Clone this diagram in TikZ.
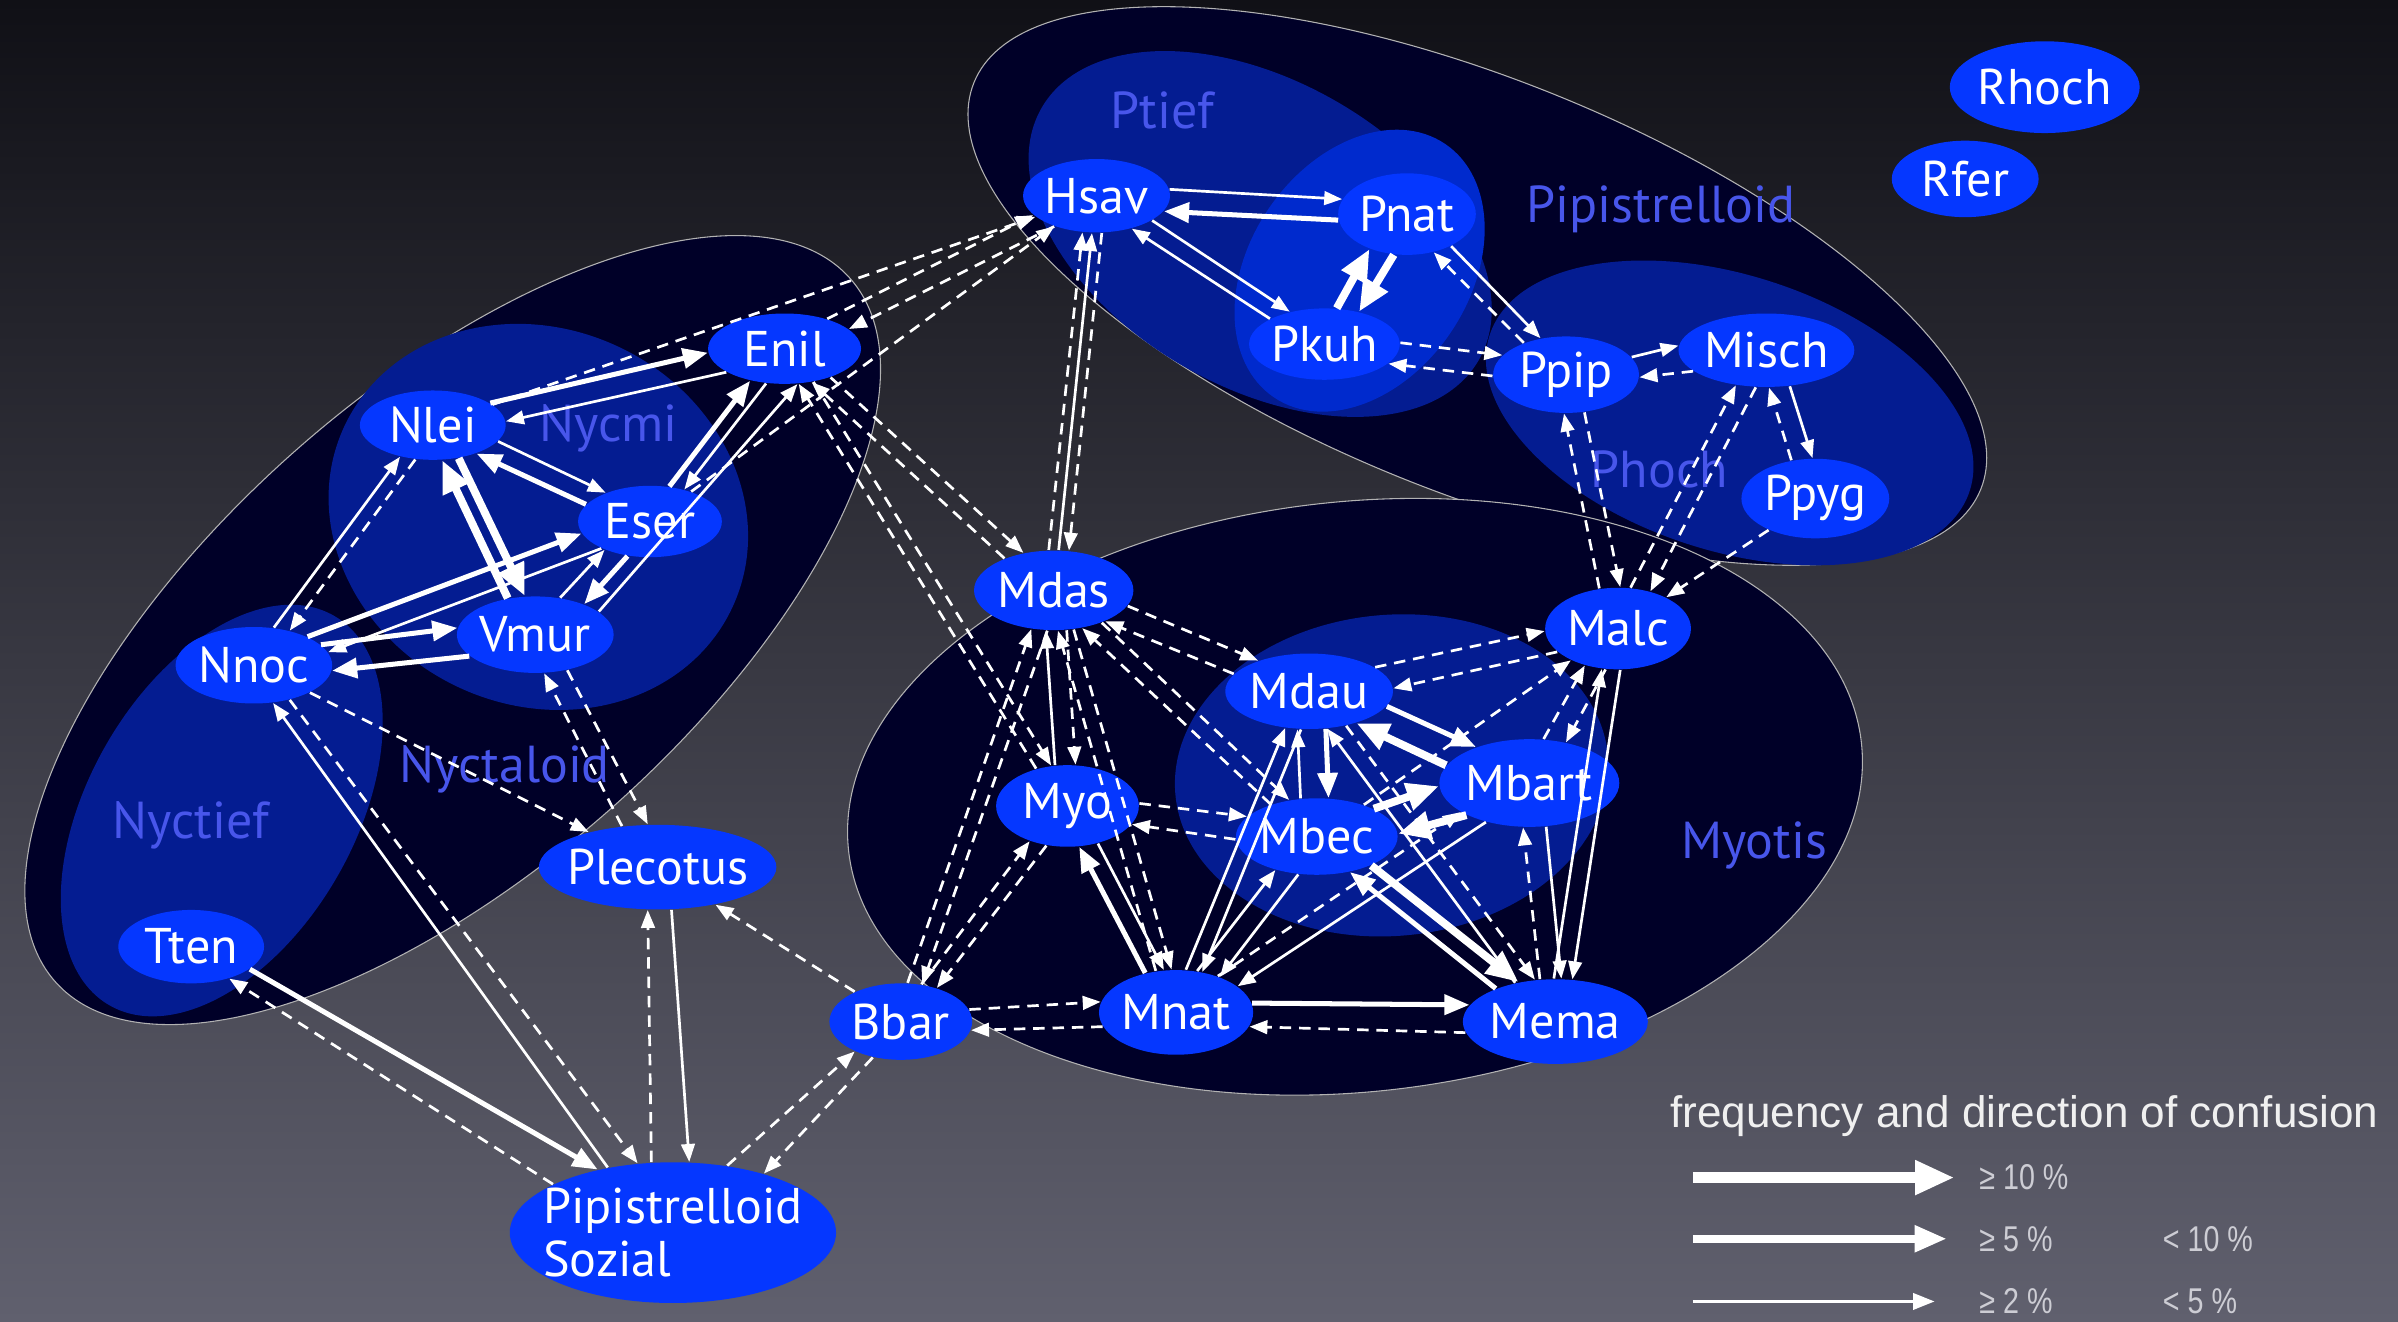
\documentclass[tikz,border=0pt]{standalone}
\usepackage{fontspec}
\setmainfont{PT Sans}
\newfontfamily\keyfont{Liberation Sans}
\newfontfamily\keynarrow[FakeStretch=0.8]{Liberation Sans}
\usepackage{xcolor}
\usetikzlibrary{arrows.meta, calc, shapes.geometric}

\definecolor{bgtop}{RGB}{16,16,22}
\definecolor{bgmid}{RGB}{50,50,62}
\definecolor{bgbot}{RGB}{96,96,110}
\definecolor{groupdark}{RGB}{0,0,40}
\definecolor{groupblue}{RGB}{4,28,145}
\definecolor{grouplight}{RGB}{0,42,205}
\definecolor{specblue}{RGB}{5,55,255}
\definecolor{grouptext}{RGB}{72,86,235}
\definecolor{keygray}{RGB}{205,205,212}

% one confusion arrow, shifted off the centre line by an angle
\newcommand{\conf}[4][9]{%
  \draw[#2] let \p1=($(#4)-(#3)$), \n1={atan2(\y1,\x1)+#1}, \n2={atan2(\y1,\x1)+180-#1} in (#3.\n1) -- (#4.\n2);}

\begin{document}
\begin{tikzpicture}[
    x=0.015cm, y=-0.015cm,
    species/.style={ellipse, fill=specblue, text=white, inner sep=0pt, font=\fontsize{14}{15}\selectfont},
    grouplabel/.style={text=grouptext, font=\fontsize{14.5}{16}\selectfont},
    conf10/.style={draw=white, line width=2.2pt, -{Triangle[length=9pt, width=7.5pt]}},
    conf5/.style={draw=white, line width=1.4pt, -{Triangle[length=7pt, width=5.5pt]}},
    conf2/.style={draw=white, line width=0.75pt, -{Triangle[length=5pt, width=3.8pt]}},
    confd/.style={draw=white, line width=0.75pt, dash pattern=on 3.2pt off 2.2pt, -{Triangle[length=5pt, width=3.8pt]}},
    keytext/.style={text=keygray, anchor=west, font=\keynarrow\fontsize{10}{11}\selectfont}
]

% Background
\useasboundingbox (0,0) rectangle (1568,864);
\shade[top color=bgtop, middle color=bgmid, bottom color=bgbot] (0,0) rectangle (1568,864);

% Group regions
\filldraw[groupdark, draw=gray!60, line width=0.3pt, rotate around={41.5:(296,412)}] (296,412) ellipse [x radius=347, y radius=156];
\filldraw[groupdark, draw=gray!60, line width=0.3pt, rotate around={-22:(966,187)}] (966,187) ellipse [x radius=355, y radius=135];
\filldraw[groupdark, draw=gray!60, line width=0.3pt, rotate around={6:(886,521)}] (886,521) ellipse [x radius=333, y radius=193];
\fill[groupblue, rotate around={60:(145,530)}] (145,530) ellipse [x radius=147, y radius=87];
\fill[groupblue, rotate around={-25:(352,338)}] (352,338) ellipse [x radius=140, y radius=123];
\fill[groupblue, rotate around={-30:(824,153)}] (824,153) ellipse [x radius=165, y radius=100];
\fill[grouplight, rotate around={56:(889,177)}] (889,177) ellipse [x radius=100, y radius=72];
\fill[groupblue, rotate around={-18:(1131,270)}] (1131,270) ellipse [x radius=165, y radius=90];
\fill[groupblue, rotate around={5:(910,507)}] (910,507) ellipse [x radius=142, y radius=105];

% Group labels
\node[grouplabel] (ptieflab) at (760,72) {Ptief};
\node[grouplabel] (pipilab) at (1086,137) {Pipistrelloid};
\node[grouplabel] (phochlab) at (1085,307) {Phoch};
\node[grouplabel] (nycmilab) at (398,280) {Nycmi};
\node[grouplabel] (nyctalab) at (330,503) {Nyctaloid};
\node[grouplabel] (nyctieflab) at (125,540) {Nyctief};
\node[grouplabel] (myotislab) at (1147,553) {Myotis};

% Species
\node[species, minimum width=1.65cm, minimum height=0.9cm] (Rhoch) at (1337,57) {Rhoch};
\node[species, minimum width=1.44cm, minimum height=0.75cm] (Rfer) at (1285,117) {Rfer};
\node[species, minimum width=1.43cm, minimum height=0.72cm] (Hsav) at (717,128) {Hsav};
\node[species, minimum width=1.35cm, minimum height=0.8cm] (Pnat) at (920,140) {Pnat};
\node[species, minimum width=1.43cm, minimum height=0.7cm] (Pkuh) at (866,225) {Pkuh};
\node[species, minimum width=1.43cm, minimum height=0.75cm] (Ppip) at (1024,245) {Ppip};
\node[species, minimum width=1.6cm, minimum height=0.72cm] (Misch) at (1155,229) {Misch};
\node[species, minimum width=1.45cm, minimum height=0.78cm] (Ppyg) at (1187,326) {Ppyg};
\node[species, minimum width=1.5cm, minimum height=0.69cm] (Enil) at (513,228) {Enil};
\node[species, minimum width=1.43cm, minimum height=0.68cm] (Nlei) at (283,278) {Nlei};
\node[species, minimum width=1.41cm, minimum height=0.7cm] (Eser) at (425,341) {Eser};
\node[species, minimum width=1.5cm, minimum height=0.75cm] (Vmur) at (350,415) {Vmur};
\node[species, minimum width=1.4cm, minimum height=0.75cm] (Nnoc) at (166,435) {Nnoc};
\node[species, minimum width=1.43cm, minimum height=0.72cm] (Tten) at (125,619) {Tten};
\node[species, minimum width=2.33cm, minimum height=0.83cm, inner xsep=-2pt] (Plecotus) at (430,567) {Plecotus};
\node[species, minimum width=3.15cm, minimum height=1.38cm, inner xsep=-4pt, inner ysep=-2pt, align=left] (Sozial) at (440,806) {Pipistrelloid\\Sozial};
\node[species, minimum width=1.4cm, minimum height=0.75cm] (Bbar) at (589,668) {Bbar};
\node[species, minimum width=1.38cm, minimum height=0.83cm] (Mnat) at (769,662) {Mnat};
\node[species, minimum width=1.65cm, minimum height=0.83cm] (Mema) at (1017,668) {Mema};
\node[species, minimum width=1.47cm, minimum height=0.78cm] (Mdas) at (689,386) {Mdas};
\node[species, minimum width=1.4cm, minimum height=0.8cm] (Myo) at (698,527) {Myo};
\node[species, minimum width=1.32cm, minimum height=0.74cm] (Mdau) at (856,452) {Mdau};
\node[species, minimum width=1.32cm, minimum height=0.75cm] (Mbec) at (861,547) {Mbec};
\node[species, minimum width=1.56cm, minimum height=0.86cm] (Mbart) at (1000,512) {Mbart};
\node[species, minimum width=1.43cm, minimum height=0.8cm] (Malc) at (1058,411) {Malc};

% Nyctaloid
\conf{conf5}{Nlei}{Enil}
\conf{conf2}{Enil}{Nlei}
\conf{conf2}{Nlei}{Eser}
\conf{conf5}{Eser}{Nlei}
\conf[11]{conf10}{Nlei}{Vmur}
\conf[11]{conf10}{Vmur}{Nlei}
\conf{conf5}{Eser}{Enil}
\conf{conf2}{Enil}{Eser}
\draw[conf2] (Vmur.20) -- (Enil.-70);
\conf{conf2}{Nnoc}{Nlei}
\conf{confd}{Nlei}{Nnoc}
\conf{conf2}{Eser}{Nnoc}
\conf{conf5}{Nnoc}{Eser}
\conf[11]{conf5}{Nnoc}{Vmur}
\conf[11]{conf5}{Vmur}{Nnoc}
\conf[12]{conf2}{Vmur}{Eser}
\conf[12]{conf5}{Eser}{Vmur}
\conf[0]{confd}{Nnoc}{Plecotus}
\conf[14]{confd}{Vmur}{Plecotus}
\conf[14]{confd}{Plecotus}{Vmur}
\conf{confd}{Nnoc}{Sozial}
\conf{conf2}{Sozial}{Nnoc}
\conf{conf5}{Tten}{Sozial}
\conf{confd}{Sozial}{Tten}
\conf[15]{conf2}{Plecotus}{Sozial}
\conf[15]{confd}{Sozial}{Plecotus}
\conf[0]{confd}{Bbar}{Plecotus}
\conf{confd}{Sozial}{Bbar}
\conf{confd}{Bbar}{Sozial}
\conf{confd}{Bbar}{Mnat}
\conf{confd}{Mnat}{Bbar}

% Nyctaloid to Hsav, Mdas, Myo
\conf[0]{confd}{Nlei}{Hsav}
\conf{confd}{Enil}{Hsav}
\conf{confd}{Hsav}{Enil}
\conf[0]{confd}{Eser}{Hsav}
\conf{confd}{Enil}{Mdas}
\conf{confd}{Mdas}{Enil}
\conf{confd}{Enil}{Myo}
\conf{confd}{Myo}{Enil}

% Pipistrelloid
\conf{conf2}{Hsav}{Pnat}
\conf{conf5}{Pnat}{Hsav}
\conf{conf2}{Hsav}{Pkuh}
\conf{conf2}{Pkuh}{Hsav}
\conf[14]{conf10}{Pkuh}{Pnat}
\conf[14]{conf10}{Pnat}{Pkuh}
\conf{conf2}{Pnat}{Ppip}
\conf{confd}{Ppip}{Pnat}
\conf{confd}{Pkuh}{Ppip}
\conf{confd}{Ppip}{Pkuh}
\conf{conf2}{Ppip}{Misch}
\conf{confd}{Misch}{Ppip}
\conf[14]{conf2}{Misch}{Ppyg}
\conf[14]{confd}{Ppyg}{Misch}
\conf[14]{confd}{Ppip}{Malc}
\conf[14]{confd}{Malc}{Ppip}
\conf[12]{confd}{Misch}{Malc}
\conf[12]{confd}{Malc}{Misch}
\conf[0]{confd}{Ppyg}{Malc}
\conf[0]{conf2}{Mdas}{Hsav}
\conf[14]{confd}{Mdas}{Hsav}
\conf[14]{confd}{Hsav}{Mdas}

% Myotis
\conf[14]{conf2}{Myo}{Mdas}
\conf[14]{confd}{Mdas}{Myo}
\conf{confd}{Mdas}{Mdau}
\conf{confd}{Mdau}{Mdas}
\conf{confd}{Mdas}{Mbec}
\conf{confd}{Mbec}{Mdas}
\conf[10]{confd}{Mdas}{Mnat}
\conf[10]{confd}{Mnat}{Mdas}
\conf[10]{confd}{Mdas}{Bbar}
\conf[10]{confd}{Bbar}{Mdas}
\conf{confd}{Myo}{Bbar}
\conf{confd}{Bbar}{Myo}
\conf{confd}{Myo}{Mbec}
\conf{confd}{Mbec}{Myo}
\conf[11]{conf2}{Myo}{Mnat}
\conf[11]{conf5}{Mnat}{Myo}
\conf[20]{conf5}{Mdau}{Mbec}
\conf[20]{conf2}{Mbec}{Mdau}
\conf[11]{conf5}{Mdau}{Mbart}
\conf[11]{conf10}{Mbart}{Mdau}
\conf[12]{conf10}{Mbec}{Mbart}
\conf[12]{conf10}{Mbart}{Mbec}
\conf{conf10}{Mbec}{Mema}
\conf{conf5}{Mema}{Mbec}
\conf{conf5}{Mnat}{Mema}
\conf{confd}{Mema}{Mnat}
\conf[10]{conf2}{Mnat}{Mdau}
\conf[10]{conf2}{Mdau}{Mnat}
\conf[12]{conf2}{Mnat}{Mbec}
\conf[12]{conf2}{Mbec}{Mnat}
\conf{conf2}{Mbart}{Mnat}
\conf{confd}{Mnat}{Mbart}
\conf[10]{conf2}{Mema}{Mdau}
\conf[10]{confd}{Mdau}{Mema}
\conf[14]{conf2}{Mbart}{Mema}
\conf[14]{confd}{Mema}{Mbart}
\conf[12]{conf2}{Malc}{Mema}
\conf[12]{conf2}{Mema}{Malc}
\conf{confd}{Malc}{Mdau}
\conf{confd}{Mdau}{Malc}
\conf[12]{confd}{Malc}{Mbart}
\conf[12]{confd}{Mbart}{Malc}
\conf[0]{confd}{Mbec}{Malc}

% Key
\node[anchor=west, text=white!88!gray, font=\keyfont\fontsize{12.3}{14}\selectfont] (keytitle) at (1084,730) {frequency and direction of confusion};
\coordinate (k10a) at (1107,770);
\coordinate (k10b) at (1278,770);
\coordinate (k5a) at (1107,810);
\coordinate (k5b) at (1273,810);
\coordinate (k2a) at (1107,851);
\coordinate (k2b) at (1265,851);
\draw[white, line width=3pt, -{Triangle[length=11pt, width=9pt]}] (k10a) -- (k10b);
\draw[white, line width=2.2pt, -{Triangle[length=9pt, width=7pt]}] (k5a) -- (k5b);
\draw[white, line width=0.9pt, -{Triangle[length=6pt, width=4.5pt]}] (k2a) -- (k2b);
\node[keytext] (k10lab) at (1286,770) {≥ 10 \%};
\node[keytext] (k5lab) at (1286,810) {≥ 5 \%};
\node[keytext] (k5up) at (1406,810) {< 10 \%};
\node[keytext] (k2lab) at (1286,851) {≥ 2 \%};
\node[keytext] (k2up) at (1406,851) {< 5 \%};

\end{tikzpicture}
\end{document}
